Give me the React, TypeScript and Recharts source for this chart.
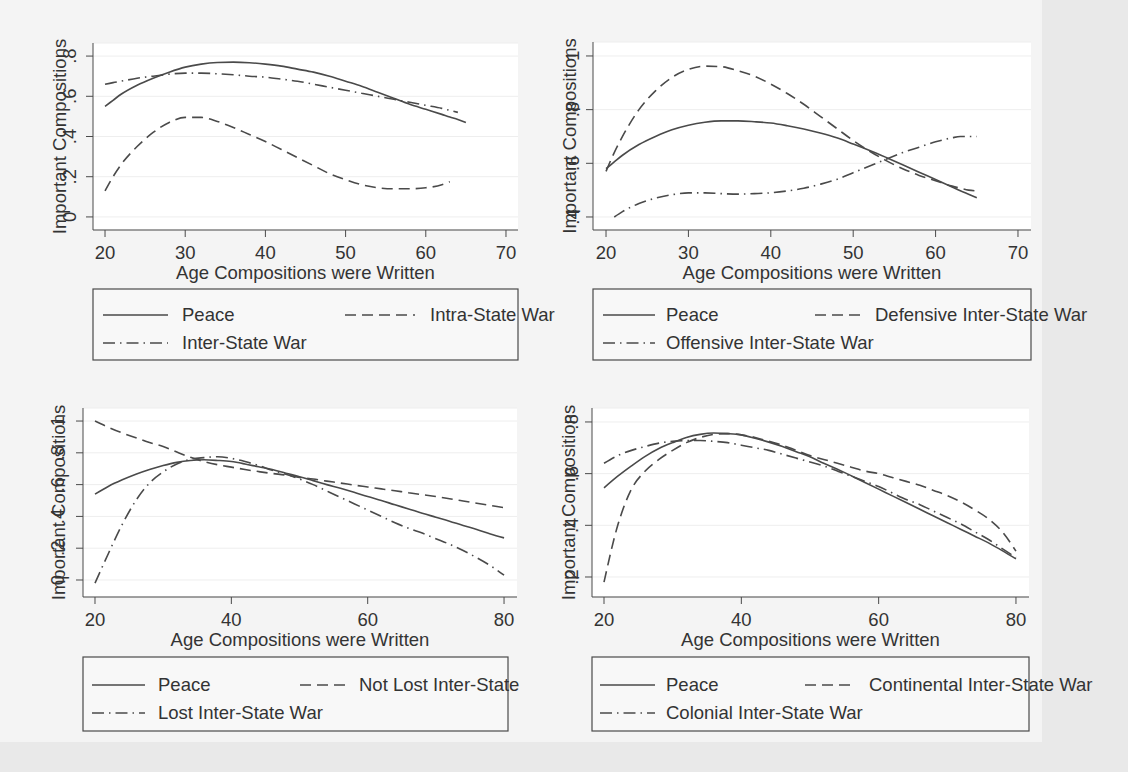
import { LineChart, Line, XAxis, YAxis, CartesianGrid } from 'recharts';

const FONT = '"Liberation Sans", Arial, sans-serif';
const INK = '#333333';
const STROKE = '#4a4a4a';
const DASH = '11 6';
const DASH_DOT = '12 5 1.5 5';

// ages 20-65 (top row of panels)
const EARLY_AGES = [20, 21, 22, 24, 26, 28, 30, 32, 34, 36, 38, 40, 42, 44, 46, 48, 50, 52, 54, 56, 58, 60, 62, 63, 64, 65];
// ages 20-80 (bottom row of panels)
const LATE_AGES = [20, 22, 24, 26, 28, 30, 32, 34, 36, 38, 40, 42, 44, 46, 48, 50, 52, 54, 56, 58, 60, 62, 64, 66, 68, 70, 72, 74, 76, 78, 80];

const PEACE_CIVIL = [0.55, 0.58, 0.61, 0.655, 0.69, 0.72, 0.745, 0.76, 0.768, 0.77, 0.767, 0.76, 0.75, 0.735, 0.72, 0.7, 0.675, 0.65, 0.62, 0.59, 0.56, 0.535, 0.51, 0.497, 0.485, 0.47];
const INTRA_STATE = [0.13, 0.2, 0.26, 0.35, 0.42, 0.47, 0.495, 0.495, 0.475, 0.445, 0.41, 0.375, 0.335, 0.295, 0.255, 0.215, 0.185, 0.16, 0.145, 0.14, 0.14, 0.145, 0.16, 0.175, null, null];
const INTER_STATE = [0.66, 0.668, 0.675, 0.69, 0.7, 0.71, 0.715, 0.715, 0.712, 0.707, 0.7, 0.695, 0.685, 0.675, 0.66, 0.645, 0.63, 0.615, 0.6, 0.585, 0.57, 0.555, 0.54, 0.53, 0.52, null];

const PEACE_SIDE = [0.58, 0.605, 0.63, 0.67, 0.7, 0.725, 0.742, 0.753, 0.758, 0.758, 0.755, 0.75, 0.74, 0.728, 0.713, 0.695, 0.672, 0.648, 0.622, 0.595, 0.567, 0.54, 0.512, 0.498, 0.485, 0.472];
const DEFENSIVE = [0.57, 0.64, 0.7, 0.8, 0.87, 0.92, 0.95, 0.962, 0.96, 0.945, 0.925, 0.895, 0.86, 0.82, 0.775, 0.73, 0.685, 0.645, 0.61, 0.58, 0.555, 0.535, 0.515, 0.507, 0.5, 0.497];
const OFFENSIVE = [null, 0.4, 0.42, 0.45, 0.47, 0.483, 0.49, 0.49, 0.487, 0.485, 0.487, 0.49, 0.497, 0.507, 0.522, 0.54, 0.565, 0.59, 0.615, 0.64, 0.66, 0.68, 0.695, 0.7, 0.7, 0.7];

const PEACE_OUTCOME = [0.54, 0.59, 0.63, 0.665, 0.695, 0.72, 0.74, 0.752, 0.756, 0.752, 0.745, 0.73, 0.712, 0.695, 0.672, 0.65, 0.625, 0.6, 0.577, 0.552, 0.525, 0.5, 0.473, 0.447, 0.42, 0.395, 0.37, 0.343, 0.318, 0.29, 0.265];
const NOT_LOST = [1.0, 0.96, 0.925, 0.895, 0.865, 0.84, 0.805, 0.772, 0.745, 0.725, 0.71, 0.695, 0.682, 0.67, 0.66, 0.645, 0.635, 0.622, 0.61, 0.597, 0.585, 0.573, 0.561, 0.549, 0.537, 0.525, 0.511, 0.497, 0.483, 0.469, 0.455];
const LOST = [-0.02, 0.17, 0.35, 0.5, 0.61, 0.68, 0.73, 0.76, 0.77, 0.775, 0.765, 0.745, 0.72, 0.69, 0.665, 0.635, 0.6, 0.56, 0.52, 0.48, 0.44, 0.4, 0.36, 0.325, 0.295, 0.26, 0.225, 0.185, 0.14, 0.09, 0.03];

const PEACE_THEATRE = [0.545, 0.59, 0.63, 0.667, 0.697, 0.72, 0.74, 0.752, 0.757, 0.755, 0.75, 0.737, 0.722, 0.705, 0.685, 0.665, 0.64, 0.617, 0.592, 0.566, 0.54, 0.514, 0.488, 0.462, 0.436, 0.41, 0.384, 0.358, 0.332, 0.302, 0.27];
const CONTINENTAL = [0.18, 0.4, 0.54, 0.61, 0.655, 0.69, 0.72, 0.74, 0.752, 0.755, 0.75, 0.74, 0.725, 0.71, 0.69, 0.67, 0.655, 0.64, 0.625, 0.61, 0.6, 0.585, 0.57, 0.555, 0.535, 0.515, 0.49, 0.46, 0.425, 0.375, 0.3];
const COLONIAL = [0.64, 0.67, 0.69, 0.705, 0.718, 0.725, 0.728, 0.728, 0.725, 0.72, 0.71, 0.7, 0.69, 0.675, 0.66, 0.645, 0.63, 0.61, 0.59, 0.57, 0.55, 0.525, 0.5, 0.48, 0.455, 0.43, 0.405, 0.375, 0.345, 0.31, 0.275];

const EARLY_TICKS = [20, 30, 40, 50, 60, 70];
const LATE_TICKS = [20, 40, 60, 80];

const X_TITLE = 'Age Compositions were Written';
const Y_TITLE = 'Important Compositions';

type Series = { key: string; name: string; values: (number | null)[]; dash?: string };
type LegendItem = { row: number; lineFrom: number; lineTo: number; textX: number };
type Box = { x0: number; x1: number; y0: number; y1: number };

interface PanelProps {
  ages: number[];
  series: Series[];
  legend: LegendItem[];
  plot: Box;
  xDomain: [number, number];
  xTicks: number[];
  yDomain: [number, number];
  yTicks: number[];
  yTitleX: number;
  yTickX: number;
  legendBox: Box;
  rows: [number, number];
}

const fmtY = (v: number) => (v === 0 || v === 1 ? String(v) : String(v).replace(/^0/, ''));

const Panel = (p: PanelProps) => {
  const data = p.ages.map((age, i) => {
    const row: Record<string, number | null> = { age };
    p.series.forEach((s) => (row[s.key] = s.values[i]));
    return row;
  });
  const yAxisW = 40;
  const xAxisH = 30;
  const margin = {
    top: p.plot.y0,
    left: p.plot.x0 - yAxisW,
    right: 1128 - p.plot.x1,
    bottom: 772 - p.plot.y1 - xAxisH,
  };
  const midY = (p.plot.y0 + p.plot.y1) / 2;
  const midX = (p.plot.x0 + p.plot.x1) / 2;

  return (
    <>
      <div style={{ position: 'absolute', left: 0, top: 0 }}>
        <LineChart width={1128} height={772} data={data} margin={margin}>
          <CartesianGrid vertical={false} stroke="#eeeeee" fill="#ffffff" />
          <XAxis
            dataKey="age"
            type="number"
            domain={p.xDomain}
            ticks={p.xTicks}
            allowDataOverflow
            height={xAxisH}
            tickSize={7}
            stroke={STROKE}
            tick={({ x, payload }: any) => (
              <text x={x} y={p.plot.y1 + 29} textAnchor="middle" fontFamily={FONT} fontSize={18.5} fill={INK}>
                {payload.value}
              </text>
            )}
          />
          <YAxis
            type="number"
            domain={p.yDomain}
            ticks={p.yTicks}
            allowDataOverflow
            width={yAxisW}
            tickSize={7}
            stroke={STROKE}
            tick={({ y, payload }: any) => (
              <text
                x={p.yTickX}
                y={y}
                transform={`rotate(-90 ${p.yTickX} ${y})`}
                textAnchor="middle"
                fontFamily={FONT}
                fontSize={18.5}
                fill={INK}
              >
                {fmtY(payload.value)}
              </text>
            )}
          />
          {p.series.map((s) => (
            <Line
              key={s.key}
              dataKey={s.key}
              name={s.name}
              type="monotone"
              stroke={STROKE}
              strokeWidth={1.6}
              strokeDasharray={s.dash}
              dot={false}
              activeDot={false}
              connectNulls={false}
              isAnimationActive={false}
            />
          ))}
        </LineChart>
      </div>
      <svg width={1128} height={772} style={{ position: 'absolute', left: 0, top: 0 }} fontFamily={FONT} fontSize={18.5}>
        <text
          x={p.yTitleX}
          y={midY}
          transform={`rotate(-90 ${p.yTitleX} ${midY})`}
          textAnchor="middle"
          fill={INK}
        >
          {Y_TITLE}
        </text>
        <text x={midX} y={p.plot.y1 + 49} textAnchor="middle" fill={INK}>
          {X_TITLE}
        </text>
        <rect
          x={p.legendBox.x0}
          y={p.legendBox.y0}
          width={p.legendBox.x1 - p.legendBox.x0}
          height={p.legendBox.y1 - p.legendBox.y0}
          fill="#f8f8f8"
          stroke={STROKE}
          strokeWidth={1.2}
        />
        {p.legend.map((it, i) => {
          const s = p.series[i];
          const base = p.rows[it.row];
          return (
            <g key={s.key}>
              <line x1={it.lineFrom} x2={it.lineTo} y1={base - 6} y2={base - 6} stroke={STROKE} strokeWidth={1.6} strokeDasharray={s.dash} />
              <text x={it.textX} y={base} fill={INK}>
                {s.name}
              </text>
            </g>
          );
        })}
      </svg>
    </>
  );
};

export default function App() {
  return (
    <div style={{ position: 'absolute', left: 0, top: 0, width: 1128, height: 772, background: '#e9e9e9', overflow: 'hidden' }}>
      <div style={{ position: 'absolute', left: 0, top: 0, width: 1042, height: 742, background: '#f4f4f4' }} />
      <Panel
        ages={EARLY_AGES}
        series={[
          { key: 'peace', name: 'Peace', values: PEACE_CIVIL },
          { key: 'intra', name: 'Intra-State War', values: INTRA_STATE, dash: DASH },
          { key: 'inter', name: 'Inter-State War', values: INTER_STATE, dash: DASH_DOT },
        ]}
        legend={[
          { row: 0, lineFrom: 103, lineTo: 168, textX: 182 },
          { row: 0, lineFrom: 345, lineTo: 415, textX: 430 },
          { row: 1, lineFrom: 103, lineTo: 168, textX: 182 },
        ]}
        plot={{ x0: 93, x1: 518, y0: 43, y1: 230 }}
        xDomain={[18.5, 71.5]}
        xTicks={EARLY_TICKS}
        yDomain={[-0.065, 0.865]}
        yTicks={[0, 0.2, 0.4, 0.6, 0.8]}
        yTitleX={66}
        yTickX={76}
        legendBox={{ x0: 93, x1: 518, y0: 289, y1: 360 }}
        rows={[321, 349]}
      />
      <Panel
        ages={EARLY_AGES}
        series={[
          { key: 'peace', name: 'Peace', values: PEACE_SIDE },
          { key: 'defensive', name: 'Defensive Inter-State War', values: DEFENSIVE, dash: DASH },
          { key: 'offensive', name: 'Offensive Inter-State War', values: OFFENSIVE, dash: DASH_DOT },
        ]}
        legend={[
          { row: 0, lineFrom: 603, lineTo: 655, textX: 666 },
          { row: 0, lineFrom: 815, lineTo: 862, textX: 875 },
          { row: 1, lineFrom: 603, lineTo: 655, textX: 666 },
        ]}
        plot={{ x0: 593, x1: 1031, y0: 42, y1: 230 }}
        xDomain={[18.42, 71.58]}
        xTicks={EARLY_TICKS}
        yDomain={[0.3515, 1.052]}
        yTicks={[0.4, 0.6, 0.8, 1]}
        yTitleX={576}
        yTickX={579}
        legendBox={{ x0: 593, x1: 1031, y0: 289, y1: 360 }}
        rows={[321, 349]}
      />
      <Panel
        ages={LATE_AGES}
        series={[
          { key: 'peace', name: 'Peace', values: PEACE_OUTCOME },
          { key: 'notlost', name: 'Not Lost Inter-State', values: NOT_LOST, dash: DASH },
          { key: 'lost', name: 'Lost Inter-State War', values: LOST, dash: DASH_DOT },
        ]}
        legend={[
          { row: 0, lineFrom: 92, lineTo: 145, textX: 158 },
          { row: 0, lineFrom: 300, lineTo: 350, textX: 359 },
          { row: 1, lineFrom: 92, lineTo: 145, textX: 158 },
        ]}
        plot={{ x0: 83, x1: 517, y0: 408, y1: 597 }}
        xDomain={[18.24, 81.9]}
        xTicks={LATE_TICKS}
        yDomain={[-0.107, 1.082]}
        yTicks={[0, 0.2, 0.4, 0.6, 0.8, 1]}
        yTitleX={65}
        yTickX={64}
        legendBox={{ x0: 83, x1: 508, y0: 657, y1: 731 }}
        rows={[691, 719]}
      />
      <Panel
        ages={LATE_AGES}
        series={[
          { key: 'peace', name: 'Peace', values: PEACE_THEATRE },
          { key: 'continental', name: 'Continental Inter-State War', values: CONTINENTAL, dash: DASH },
          { key: 'colonial', name: 'Colonial Inter-State War', values: COLONIAL, dash: DASH_DOT },
        ]}
        legend={[
          { row: 0, lineFrom: 600, lineTo: 655, textX: 666 },
          { row: 0, lineFrom: 805, lineTo: 856, textX: 869 },
          { row: 1, lineFrom: 600, lineTo: 655, textX: 666 },
        ]}
        plot={{ x0: 592, x1: 1029, y0: 408, y1: 597 }}
        xDomain={[18.25, 81.9]}
        xTicks={LATE_TICKS}
        yDomain={[0.1226, 0.854]}
        yTicks={[0.2, 0.4, 0.6, 0.8]}
        yTitleX={575}
        yTickX={578}
        legendBox={{ x0: 592, x1: 1029, y0: 657, y1: 731 }}
        rows={[691, 719]}
      />
    </div>
  );
}
